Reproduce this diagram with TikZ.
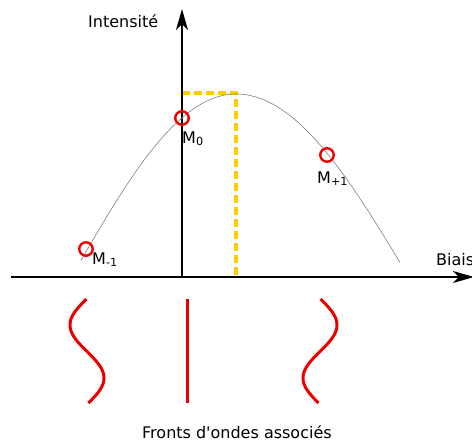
\documentclass[tikz,border=0pt]{standalone}
\usepackage{fontspec}
\setmainfont[Ligatures=TeXOff]{DejaVu Sans}
\usetikzlibrary{arrows.meta}
\definecolor{gold}{RGB}{255,204,0}
\definecolor{frontred}{RGB}{235,0,0}
\begin{document}
\begin{tikzpicture}[x=1pt,y=-1pt,
  axis/.style={line width=1.6pt,black,-{Stealth[length=21pt,width=12pt,inset=6pt]}},
  guide/.style={line width=3.5pt,gold,dash pattern=on 8pt off 4pt},
  curve/.style={line width=0.6pt,gray},
  marker/.style={circle,draw=frontred,line width=2.4pt,minimum size=13.5pt,inner sep=0pt},
  lbl/.style={inner sep=0pt,font=\fontsize{16}{19}\selectfont},
  front/.style={line width=3pt,frontred}]
\useasboundingbox (0,0) rectangle (472,442);
% axes
\coordinate (O) at (182,277);
\coordinate (xl) at (11,277);
\coordinate (xr) at (474,277);
\coordinate (yt) at (182,9);
\coordinate (peak) at (236,93);
\coordinate (peaky) at (182,93);
\coordinate (peakx) at (236,277);
% guide lines
\draw[guide] (peaky) -- (peak) -- (peakx);
\draw[axis] (xl) -- (xr);
\draw[axis] (O) -- (yt);
% curve
\draw[curve] plot[domain=81:236,samples=80] (\x,{277-183*cos(0.00955*(\x-236) r)});
\draw[curve] plot[domain=236:400,samples=80] (\x,{277-183*cos(0.0091*(\x-236) r)});
% markers
\node[marker] (m0) at (182,118) {};
\node[marker] (mp) at (327,155) {};
\node[marker] (mm) at (86,249) {};
\node[lbl,anchor=base west] (lm0) at (182,143) {M\textsubscript{0}};
\node[lbl,anchor=base west] (lmp) at (317,183) {M\textsubscript{+1}};
\node[lbl,anchor=base west] (lmm) at (92,264) {M\textsubscript{-1}};
% axis labels
\node[lbl,anchor=base west] (ylab) at (88,27) {Intensité};
\node[lbl,anchor=base west] (xlab) at (436,265) {Biais};
% wavefronts
\draw[front] plot[domain=299:403,samples=80,variable=\t] ({87-17*sin(0.0593*(\t-298.5) r)},\t);
\coordinate (ft) at (187,299);
\coordinate (fb) at (187,403);
\draw[front] (ft) -- (fb);
\draw[front] plot[domain=299:403,samples=80,variable=\t] ({320+17*sin(0.0593*(\t-298.5) r)},\t);
\node[lbl,anchor=base west] (title) at (142,438) {Fronts d'ondes associés};
\end{tikzpicture}
\end{document}
